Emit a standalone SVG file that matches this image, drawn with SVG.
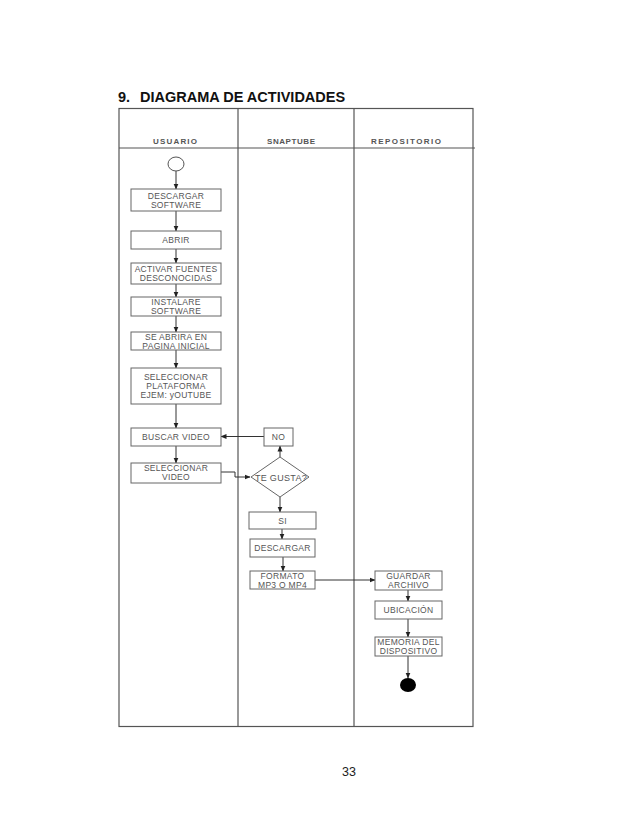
<svg xmlns="http://www.w3.org/2000/svg" width="638" height="826" viewBox="0 0 638 826">
<style>
.title{font-family:"Liberation Sans",Arial,sans-serif;font-weight:bold;font-size:14.5px;fill:#111}
.hdr{font-family:"Liberation Sans",Arial,sans-serif;font-weight:bold;font-size:8px;fill:#555;text-anchor:middle}
.frame{stroke:#555;stroke-width:1.2;fill:none}
.box{fill:#fff;stroke:#666;stroke-width:1}
.t{font-family:"Liberation Sans",Arial,sans-serif;font-size:8.5px;fill:#555;text-anchor:middle;letter-spacing:0.3px}
.c{stroke:#333;stroke-width:1;fill:none}
.pg{font-family:"Liberation Sans",Arial,sans-serif;font-size:12.5px;fill:#222;text-anchor:middle}
</style>
<defs>
<marker id="arr" markerWidth="6" markerHeight="6" refX="5.5" refY="3" orient="auto" markerUnits="userSpaceOnUse">
<path d="M0,0.5 L6,3 L0,5.5 z" fill="#222"/>
</marker>
</defs>
<rect width="638" height="826" fill="#fff"/>
<text class="title" x="118" y="102">9.</text>
<text class="title" x="140" y="102">DIAGRAMA DE ACTIVIDADES</text>

<g id="swimlanes">
<rect class="frame" x="119" y="108.5" width="354" height="618"/>
<line class="frame" x1="119" y1="148" x2="475" y2="148"/>
<line class="frame" x1="238" y1="108.5" x2="238" y2="726.5"/>
<line class="frame" x1="354" y1="108.5" x2="354" y2="726.5"/>
<text class="hdr" x="175" y="144" textLength="44" lengthAdjust="spacing">USUARIO</text>
<text class="hdr" x="291" y="144" textLength="48" lengthAdjust="spacing">SNAPTUBE</text>
<text class="hdr" x="406" y="144" textLength="70" lengthAdjust="spacing">REPOSITORIO</text>
</g>

<g id="connectors">
<line class="c" x1="176" y1="171" x2="176" y2="189" marker-end="url(#arr)"/>
<line class="c" x1="176" y1="211" x2="176" y2="231" marker-end="url(#arr)"/>
<line class="c" x1="176" y1="249" x2="176" y2="263" marker-end="url(#arr)"/>
<line class="c" x1="176" y1="284" x2="176" y2="297" marker-end="url(#arr)"/>
<line class="c" x1="176" y1="316" x2="176" y2="332" marker-end="url(#arr)"/>
<line class="c" x1="176" y1="350" x2="176" y2="368" marker-end="url(#arr)"/>
<line class="c" x1="176" y1="404" x2="176" y2="428" marker-end="url(#arr)"/>
<line class="c" x1="176" y1="446" x2="176" y2="463" marker-end="url(#arr)"/>
<line class="c" x1="264" y1="436.5" x2="221" y2="436.5" marker-end="url(#arr)"/>
<polyline class="c" points="221,472 235,472 235,477 250,477" marker-end="url(#arr)"/>
<line class="c" x1="280" y1="457" x2="280" y2="446" marker-end="url(#arr)"/>
<line class="c" x1="280" y1="497" x2="280" y2="512" marker-end="url(#arr)"/>
<line class="c" x1="282" y1="529" x2="282" y2="539" marker-end="url(#arr)"/>
<line class="c" x1="283" y1="557" x2="283" y2="571" marker-end="url(#arr)"/>
<line class="c" x1="315" y1="580" x2="375" y2="580" marker-end="url(#arr)"/>
<line class="c" x1="408" y1="590" x2="408" y2="601" marker-end="url(#arr)"/>
<line class="c" x1="408" y1="619" x2="408" y2="637" marker-end="url(#arr)"/>
<line class="c" x1="408" y1="656" x2="408" y2="678" marker-end="url(#arr)"/>
</g>

<g id="start"><ellipse cx="176" cy="164" rx="8" ry="7" fill="#fff" stroke="#555" stroke-width="1"/></g>

<g id="descargar-software"><rect class="box" x="131" y="189" width="90" height="22"/>
<text class="t" x="176" y="198.5">DESCARGAR</text><text class="t" x="176" y="207.5">SOFTWARE</text></g>

<g id="abrir"><rect class="box" x="131" y="231" width="90" height="18"/>
<text class="t" x="176" y="243">ABRIR</text></g>

<g id="activar"><rect class="box" x="131" y="263" width="90" height="21"/>
<text class="t" x="176" y="272">ACTIVAR FUENTES</text><text class="t" x="176" y="281">DESCONOCIDAS</text></g>

<g id="instalare"><rect class="box" x="131" y="297" width="90" height="19"/>
<text class="t" x="176" y="305">INSTALARE</text><text class="t" x="176" y="314">SOFTWARE</text></g>

<g id="se-abrira"><rect class="box" x="131" y="332" width="90" height="18"/>
<text class="t" x="176" y="339.5">SE ABRIRA EN</text><text class="t" x="176" y="348.5">PAGINA INICIAL</text></g>

<g id="seleccionar-plataforma"><rect class="box" x="131" y="368" width="90" height="36"/>
<text class="t" x="176" y="380">SELECCIONAR</text><text class="t" x="176" y="389">PLATAFORMA</text><text class="t" x="176" y="398">EJEM: yOUTUBE</text></g>

<g id="buscar-video"><rect class="box" x="131" y="428" width="90" height="18"/>
<text class="t" x="176" y="440">BUSCAR VIDEO</text></g>

<g id="seleccionar-video"><rect class="box" x="131" y="463" width="90" height="20"/>
<text class="t" x="176" y="471">SELECCIONAR</text><text class="t" x="176" y="480">VIDEO</text></g>

<g id="no"><rect class="box" x="264" y="428" width="29" height="18"/>
<text class="t" x="278.5" y="440">NO</text></g>

<g id="te-gusta"><polygon class="box" points="280,457 309,477 280,497 251,477"/>
<text class="t" x="281" y="480.5" style="font-size:9px">TE GUSTA?</text></g>

<g id="si"><rect class="box" x="249" y="512" width="67" height="17"/>
<text class="t" x="282.5" y="523.5">SI</text></g>

<g id="descargar"><rect class="box" x="250" y="539" width="65" height="18"/>
<text class="t" x="282.5" y="551">DESCARGAR</text></g>

<g id="formato"><rect class="box" x="250" y="571" width="65" height="18"/>
<text class="t" x="282.5" y="578.5">FORMATO</text><text class="t" x="282.5" y="587.5">MP3 O MP4</text></g>

<g id="guardar"><rect class="box" x="375" y="571" width="67" height="19"/>
<text class="t" x="408.5" y="579">GUARDAR</text><text class="t" x="408.5" y="588">ARCHIVO</text></g>

<g id="ubicacion"><rect class="box" x="375" y="601" width="67" height="18"/>
<text class="t" x="408.5" y="613">UBICACIÓN</text></g>

<g id="memoria"><rect class="box" x="375" y="637" width="67" height="19"/>
<text class="t" x="408.5" y="645">MEMORIA DEL</text><text class="t" x="408.5" y="654">DISPOSITIVO</text></g>

<g id="end"><ellipse cx="408" cy="685" rx="8" ry="7" fill="#000"/></g>

<text class="pg" x="349" y="776">33</text>
</svg>
